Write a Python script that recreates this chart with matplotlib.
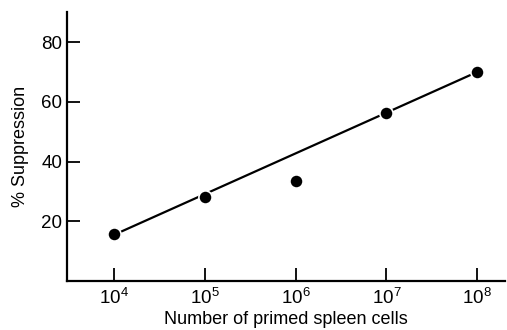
import numpy as np
import matplotlib
matplotlib.use("Agg")
from matplotlib import pyplot as plt

# primed spleen cells vs. % suppression
cells = [1e4, 1e5, 1e6, 1e7, 1e8]
suppression = [15.7, 28.3, 33.4, 56.3, 70.0]

# hand-drawn trend line (endpoints)
line_cells = [1e4, 1e8]
line_suppression = [15.5, 70.0]

y_ticks = [20, 40, 60, 80]
x_tick_labels = [r"$\mathregular{10^{%d}}$" % e for e in range(4, 9)]

plt.rcParams["font.family"] = ["Liberation Sans", "DejaVu Sans"]
plt.rcParams["mathtext.default"] = "regular"

fig = plt.figure(figsize=(5.07, 3.30), dpi=100)
ax = fig.add_axes([0.132, 0.148, 0.864, 0.815])

ax.plot(line_cells, line_suppression, color="black", lw=1.6, zorder=2)
ax.plot(cells, suppression, "o", color="black", ms=9.5,
        mec="white", mew=1.2, zorder=3)

ax.set_xscale("log")
ax.set_xlim(10**3.482, 10**8.306)
ax.set_ylim(0, 90)
ax.set_xticks(cells)
ax.set_xticklabels(x_tick_labels)
ax.minorticks_off()
ax.set_yticks(y_ticks)

for side in ("top", "right"):
    ax.spines[side].set_visible(False)
for side in ("left", "bottom"):
    ax.spines[side].set_linewidth(1.6)

ax.tick_params(direction="in", length=9.5, width=1.3, labelsize=13.5,
               colors="black")
ax.tick_params(axis="x", pad=5)
ax.tick_params(axis="y", pad=3.5)

ax.set_xlabel("Number of primed spleen cells", fontsize=13, labelpad=2)
ax.set_ylabel("% Suppression", fontsize=13, labelpad=9)

fig.savefig("out.png", dpi=100)
